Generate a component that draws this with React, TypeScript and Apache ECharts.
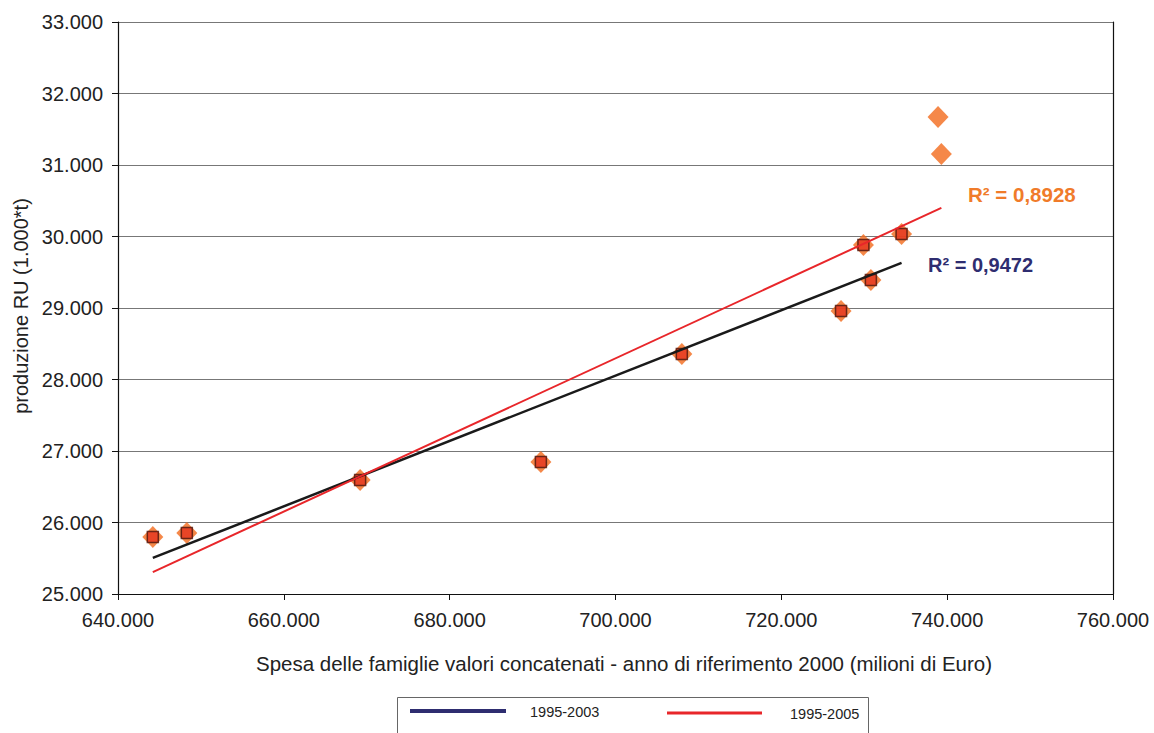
import React, { useEffect, useRef } from "react";
import * as echarts from "echarts";

// Household spending (million €, chained values, ref. year 2000) vs. municipal waste (1,000 t)
const spesa9503 = [644200, 648300, 669200, 691000, 708000, 727200, 729900, 730800, 734500];
const rifiuti9503 = [25797, 25853, 26594, 26846, 28357, 28958, 29881, 29392, 30035];
const spesaExtra = [738900, 739300];
const rifiutiExtra = [31671, 31154];

const spesa9505 = [...spesa9503, ...spesaExtra];
const rifiuti9505 = [...rifiuti9503, ...rifiutiExtra];

const legendNames = ["1995-2003", "1995-2005"];
const r2Labels = ["R² = 0,9472", "R² = 0,8928"];

const xTitle = "Spesa delle famiglie valori concatenati - anno di riferimento 2000 (milioni di Euro)";
const yTitle = "produzione RU (1.000*t)";

// least-squares fit, drawn across the range of the fitted x values
function trend(xs: number[], ys: number[]): number[][] {
  const n = xs.length;
  const mx = xs.reduce((a, b) => a + b, 0) / n;
  const my = ys.reduce((a, b) => a + b, 0) / n;
  let sxy = 0;
  let sxx = 0;
  for (let i = 0; i < n; i++) {
    sxy += (xs[i] - mx) * (ys[i] - my);
    sxx += (xs[i] - mx) * (xs[i] - mx);
  }
  const b = sxy / sxx;
  const a = my - b * mx;
  const x0 = Math.min(...xs);
  const x1 = Math.max(...xs);
  return [
    [x0, a + b * x0],
    [x1, a + b * x1],
  ];
}

function itNum(v: number): string {
  const s = Math.round(v).toString();
  return s.replace(/\B(?=(\d{3})+(?!\d))/g, ".");
}

const FONT = "Liberation Sans, Arial, sans-serif";

export default function App() {
  const ref = useRef<HTMLDivElement>(null);

  useEffect(() => {
    if (!ref.current) return;
    const chart = echarts.init(ref.current, undefined, { renderer: "svg" });
    const orange = "#F26A1B";
    const labelOrange = "#F07B2A";
    const red = "#E8262A";
    const navy = "#2E2D70";

    chart.setOption({
      animation: false,
      backgroundColor: "#ffffff",
      textStyle: { fontFamily: FONT },
      grid: { left: 118, right: 41, top: 22, bottom: 139, containLabel: false },
      xAxis: {
        type: "value",
        min: 640000,
        max: 760000,
        interval: 20000,
        axisLine: { show: true, onZero: false, lineStyle: { color: "#111", width: 1.2 } },
        axisTick: { show: true, inside: false, length: 6, lineStyle: { color: "#111" } },
        splitLine: { show: false },
        axisLabel: { formatter: itNum, color: "#222", fontSize: 20, margin: 16, fontFamily: FONT },
      },
      yAxis: [
        {
          type: "value",
          min: 25000,
          max: 33000,
          interval: 1000,
          axisLine: { show: true, onZero: false, lineStyle: { color: "#111", width: 1.2 } },
          axisTick: { show: true, inside: false, length: 6, lineStyle: { color: "#111" } },
          splitLine: { show: true, lineStyle: { color: "#777", width: 1.2 } },
          axisLabel: { formatter: itNum, color: "#222", fontSize: 20, margin: 15, fontFamily: FONT },
        },
        {
          type: "value",
          position: "right",
          min: 25000,
          max: 33000,
          axisLine: { show: true, onZero: false, lineStyle: { color: "#111", width: 1.2 } },
          axisTick: { show: false },
          axisLabel: { show: false },
          splitLine: { show: false },
        },
      ],
      graphic: [
        {
          type: "text",
          x: 624,
          y: 663,
          style: {
            text: xTitle,
            fontFamily: FONT,
            fontSize: 20.5,
            fill: "#222",
            textAlign: "center",
            textVerticalAlign: "middle",
          },
        },
        {
          type: "text",
          x: 21,
          y: 306,
          rotation: Math.PI / 2,
          style: {
            text: yTitle,
            fontFamily: FONT,
            fontSize: 20,
            fill: "#222",
            textAlign: "center",
            textVerticalAlign: "middle",
          },
        },
        {
          type: "text",
          x: 968,
          y: 194,
          style: {
            text: r2Labels[1],
            fontFamily: FONT,
            fontSize: 20.5,
            fontWeight: "bold",
            fill: labelOrange,
            textAlign: "left",
            textVerticalAlign: "middle",
          },
        },
        {
          type: "text",
          x: 928,
          y: 265,
          style: {
            text: r2Labels[0],
            fontFamily: FONT,
            fontSize: 20,
            fontWeight: "bold",
            fill: navy,
            textAlign: "left",
            textVerticalAlign: "middle",
          },
        },
        // legend box
        {
          type: "rect",
          shape: { x: 397.5, y: 697.5, width: 471, height: 60 },
          style: { fill: "#fff", stroke: "#666", lineWidth: 1 },
        },
        {
          type: "line",
          shape: { x1: 410, y1: 711, x2: 506, y2: 711 },
          style: { stroke: navy, lineWidth: 4 },
        },
        {
          type: "text",
          x: 530,
          y: 712,
          style: { text: legendNames[0], fontFamily: FONT, fontSize: 14.5, fill: "#222", textVerticalAlign: "middle" },
        },
        {
          type: "line",
          shape: { x1: 667, y1: 713, x2: 762, y2: 713 },
          style: { stroke: red, lineWidth: 3 },
        },
        {
          type: "text",
          x: 790,
          y: 714,
          style: { text: legendNames[1], fontFamily: FONT, fontSize: 14.5, fill: "#222", textVerticalAlign: "middle" },
        },
      ],
      series: [
        {
          name: legendNames[1],
          type: "scatter",
          symbol: "diamond",
          symbolSize: [21, 22],
          itemStyle: { color: orange },
          data: spesa9505.map((x, i) => [x, rifiuti9505[i]]),
          z: 2,
        },
        {
          name: legendNames[0],
          type: "scatter",
          symbol: "rect",
          symbolSize: 11,
          itemStyle: { color: "#E5341F", borderColor: "#4a140c", borderWidth: 1.5 },
          data: spesa9503.map((x, i) => [x, rifiuti9503[i]]),
          z: 3,
        },
        {
          name: legendNames[0] + " trend",
          type: "line",
          data: trend(spesa9503, rifiuti9503),
          symbol: "none",
          lineStyle: { color: "#1a1a1a", width: 2.5 },
          z: 4,
        },
        {
          name: legendNames[1] + " trend",
          type: "line",
          data: trend(spesa9505, rifiuti9505),
          symbol: "none",
          lineStyle: { color: red, width: 2 },
          z: 5,
        },
      ],
    });

    return () => chart.dispose();
  }, []);

  return (
    <div
      ref={ref}
      style={{ position: "fixed", left: 0, top: 0, width: 1154, height: 733, background: "#fff" }}
    />
  );
}
